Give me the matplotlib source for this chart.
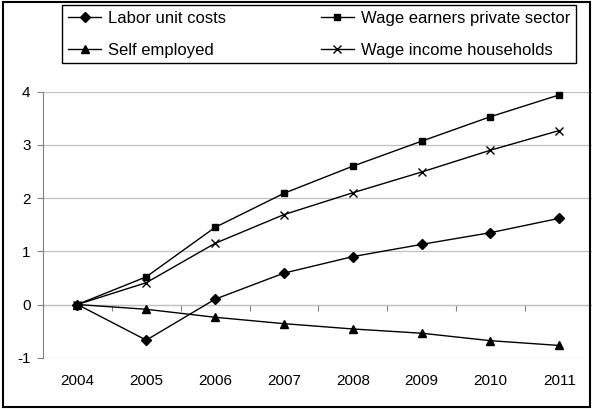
import matplotlib
matplotlib.use("Agg")
from matplotlib import pyplot as plt
from matplotlib.patches import Rectangle
import numpy as np

plt.rcParams['font.family'] = ['Liberation Sans', 'DejaVu Sans']

years = ['2004', '2005', '2006', '2007', '2008', '2009', '2010', '2011']
labor_unit_costs = [0.0, -0.67, 0.10, 0.59, 0.90, 1.13, 1.35, 1.62]
wage_earners_private = [0.0, 0.52, 1.45, 2.09, 2.60, 3.07, 3.53, 3.94]
self_employed = [0.0, -0.09, -0.24, -0.36, -0.46, -0.54, -0.68, -0.77]
wage_income_households = [0.0, 0.41, 1.15, 1.69, 2.10, 2.49, 2.90, 3.27]
yticks = [-1, 0, 1, 2, 3, 4]

fig = plt.figure(figsize=(5.92, 4.09), dpi=100)
ax = fig.add_axes([43 / 592, 1 - 357.7 / 409, (593.7 - 43) / 592, (357.7 - 91.7) / 409])

x = np.arange(len(years))
l1, = ax.plot(x, labor_unit_costs, color='black', lw=1, marker='D', ms=5, clip_on=False, zorder=5)
l2, = ax.plot(x, wage_earners_private, color='black', lw=1, marker='s', ms=5, clip_on=False, zorder=5)
l3, = ax.plot(x, self_employed, color='black', lw=1, marker='^', ms=6, clip_on=False, zorder=5)
l4, = ax.plot(x, wage_income_households, color='black', lw=1, marker='x', ms=6, mew=1, clip_on=False, zorder=5)

ax.set_xlim(-0.5, len(years) - 0.5)
ax.set_ylim(-1, 4)
ax.set_yticks(yticks)
ax.set_yticklabels([str(v) for v in yticks], fontsize=11)
ax.yaxis.grid(True, color='#c0c0c0', lw=0.9)
ax.set_axisbelow(True)

for s in ['top', 'right', 'bottom']:
    ax.spines[s].set_visible(False)
ax.spines['left'].set_color('#808080')
ax.tick_params(axis='y', direction='out', length=4, color='#808080', pad=5)

# category labels at the bottom, no ticks
ax.set_xticks(x)
ax.set_xticklabels(years, fontsize=11)
ax.tick_params(axis='x', length=0, pad=12)

# horizontal axis line crossing at zero with tick marks between categories
sec = ax.secondary_xaxis((0 - (-1)) / (4 - (-1)))
sec.set_xticks(np.arange(len(years) + 1) - 0.5)
sec.set_xticklabels([])
sec.spines['bottom'].set_color('#808080')
sec.tick_params(direction='out', length=4, color='#808080')

fig.legend([l1, l3, l2, l4],
           ['Labor unit costs', 'Self employed', 'Wage earners private sector', 'Wage income households'],
           ncol=2, loc='upper left', mode='expand',
           bbox_to_anchor=(62 / 592, 1 - 62 / 409, 514 / 592, 57 / 409),
           fontsize=12, frameon=True, fancybox=False, edgecolor='black', framealpha=1,
           handlelength=2.0, handletextpad=0.4, labelspacing=1.0,
           borderpad=0.35, borderaxespad=0)

fig.patches.append(Rectangle((2.5 / 592, 2 / 409), 587.5 / 592, 405 / 409,
                             transform=fig.transFigure, fill=False, edgecolor='black', lw=1.5))

fig.savefig('out.png', dpi=100)
